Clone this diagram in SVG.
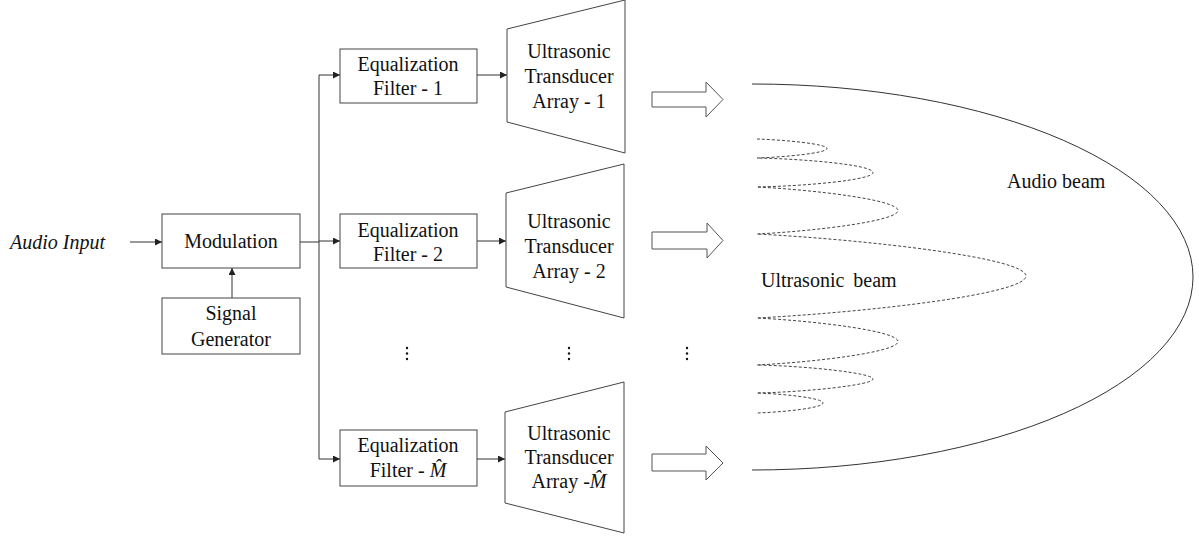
<svg xmlns="http://www.w3.org/2000/svg" width="1199" height="537" viewBox="0 0 1199 537">
<defs>
<marker id="ah" viewBox="0 0 8 8" refX="8" refY="4" markerWidth="7" markerHeight="7" markerUnits="userSpaceOnUse" orient="auto">
<path d="M0,0 L8,4 L0,8 z" fill="#222"/>
</marker>
<style>
.box{fill:#fff;stroke:#444;stroke-width:1}
.t{font-family:"Liberation Serif","Times New Roman",serif;font-size:20px;fill:#111;text-anchor:middle}
.ti{font-family:"Liberation Serif","Times New Roman",serif;font-size:20px;fill:#111;font-style:italic}
.tl{font-family:"Liberation Serif","Times New Roman",serif;font-size:20px;fill:#111}
.c{fill:none;stroke:#333;stroke-width:1}
.blk{fill:#fff;stroke:#555;stroke-width:1}
.lobe{fill:none;stroke:#444;stroke-width:1;stroke-dasharray:3,2}
.dot{fill:#111}
</style>
</defs>
<rect width="1199" height="537" fill="#fff"/>

<g id="connectors">
<line class="c" x1="130" y1="242" x2="162" y2="242" marker-end="url(#ah)"/>
<line class="c" x1="232" y1="298" x2="232" y2="268" marker-end="url(#ah)"/>
<line class="c" x1="300" y1="242" x2="319" y2="242" stroke-width="1.6"/>
<line class="c" x1="319" y1="75" x2="319" y2="459"/>
<line class="c" x1="319" y1="75" x2="340" y2="75" marker-end="url(#ah)"/>
<line class="c" x1="319" y1="241" x2="340" y2="241" marker-end="url(#ah)"/>
<line class="c" x1="319" y1="459" x2="340" y2="459" marker-end="url(#ah)"/>
<line class="c" x1="477" y1="75" x2="507" y2="75" marker-end="url(#ah)"/>
<line class="c" x1="477" y1="241" x2="506" y2="241" marker-end="url(#ah)"/>
<line class="c" x1="477" y1="459" x2="505" y2="459" marker-end="url(#ah)"/>
</g>

<g id="audio-input"><text class="ti" x="10" y="249">Audio Input</text></g>

<g id="modulation">
<rect class="box" x="162" y="214" width="138" height="54"/>
<text class="t" x="231" y="248">Modulation</text>
</g>

<g id="signal-generator">
<rect class="box" x="162" y="298" width="138" height="56"/>
<text class="t" x="231" y="320">Signal</text>
<text class="t" x="231" y="346">Generator</text>
</g>

<g id="eq1">
<rect class="box" x="340" y="49" width="137" height="54"/>
<text class="t" x="408" y="71">Equalization</text>
<text class="t" x="408" y="95">Filter - 1</text>
</g>
<g id="eq2">
<rect class="box" x="340" y="214" width="137" height="54"/>
<text class="t" x="408" y="237">Equalization</text>
<text class="t" x="408" y="261">Filter - 2</text>
</g>
<g id="eqM">
<rect class="box" x="340" y="430" width="137" height="56"/>
<text class="t" x="408" y="452">Equalization</text>
<text class="t" x="408" y="477">Filter - <tspan font-style="italic">M̂</tspan></text>
</g>

<g id="uta1">
<polygon class="box" points="507,29 625,0 625,153 507,122"/>
<text class="t" x="569" y="58">Ultrasonic</text>
<text class="t" x="569" y="83">Transducer</text>
<text class="t" x="569" y="108">Array - 1</text>
</g>
<g id="uta2">
<polygon class="box" points="506,193 624,164 624,318 506,287"/>
<text class="t" x="569" y="228">Ultrasonic</text>
<text class="t" x="569" y="253">Transducer</text>
<text class="t" x="569" y="278">Array - 2</text>
</g>
<g id="utaM">
<polygon class="box" points="505,412 624,382 624,533 505,503"/>
<text class="t" x="569" y="440">Ultrasonic</text>
<text class="t" x="569" y="464">Transducer</text>
<text class="t" x="569" y="488">Array -<tspan font-style="italic">M̂</tspan></text>
</g>

<g id="block-arrows">
<polygon class="blk" points="652,92 706,92 706,82 723,99.5 706,117 706,107 652,107"/>
<polygon class="blk" points="652,232 707,232 707,223 723,240.5 707,258 707,249 652,249"/>
<polygon class="blk" points="652,454 706,454 706,446 723,463 706,480 706,471 652,471"/>
</g>

<g id="dots">
<circle class="dot" cx="407" cy="348" r="1.2"/><circle class="dot" cx="407" cy="353.5" r="1.2"/><circle class="dot" cx="407" cy="359" r="1.2"/>
<circle class="dot" cx="569" cy="348" r="1.2"/><circle class="dot" cx="569" cy="353.5" r="1.2"/><circle class="dot" cx="569" cy="359" r="1.2"/>
<circle class="dot" cx="687" cy="348" r="1.2"/><circle class="dot" cx="687" cy="353.5" r="1.2"/><circle class="dot" cx="687" cy="359" r="1.2"/>
</g>

<g id="audio-beam">
<path class="c" d="M752,84 A441,193 0 0 1 752,470" stroke="#444"/>
<text class="tl" x="1007" y="188">Audio beam</text>
</g>

<g id="ultrasonic-beam">
<path class="lobe" d="M757,139 C786,140 827,144 827,148.5 C827,153 786,157 757,158
C806,159 873,165 873,172.5 C873,180 806,186 757,187
C816,190 898,200 898,210.5 C898,221 816,231 757,234
C870,240 1026,258 1026,276 C1026,294 870,312 757,318
C816,321 898,331 898,341.5 C898,352 816,362 757,365
C806,366 873,373 873,379 C873,385 806,392 757,393
C784,394 823,398 823,403 C823,408 784,412 757,413"/>
<text class="tl" x="761" y="287" word-spacing="4">Ultrasonic beam</text>
</g>
</svg>
